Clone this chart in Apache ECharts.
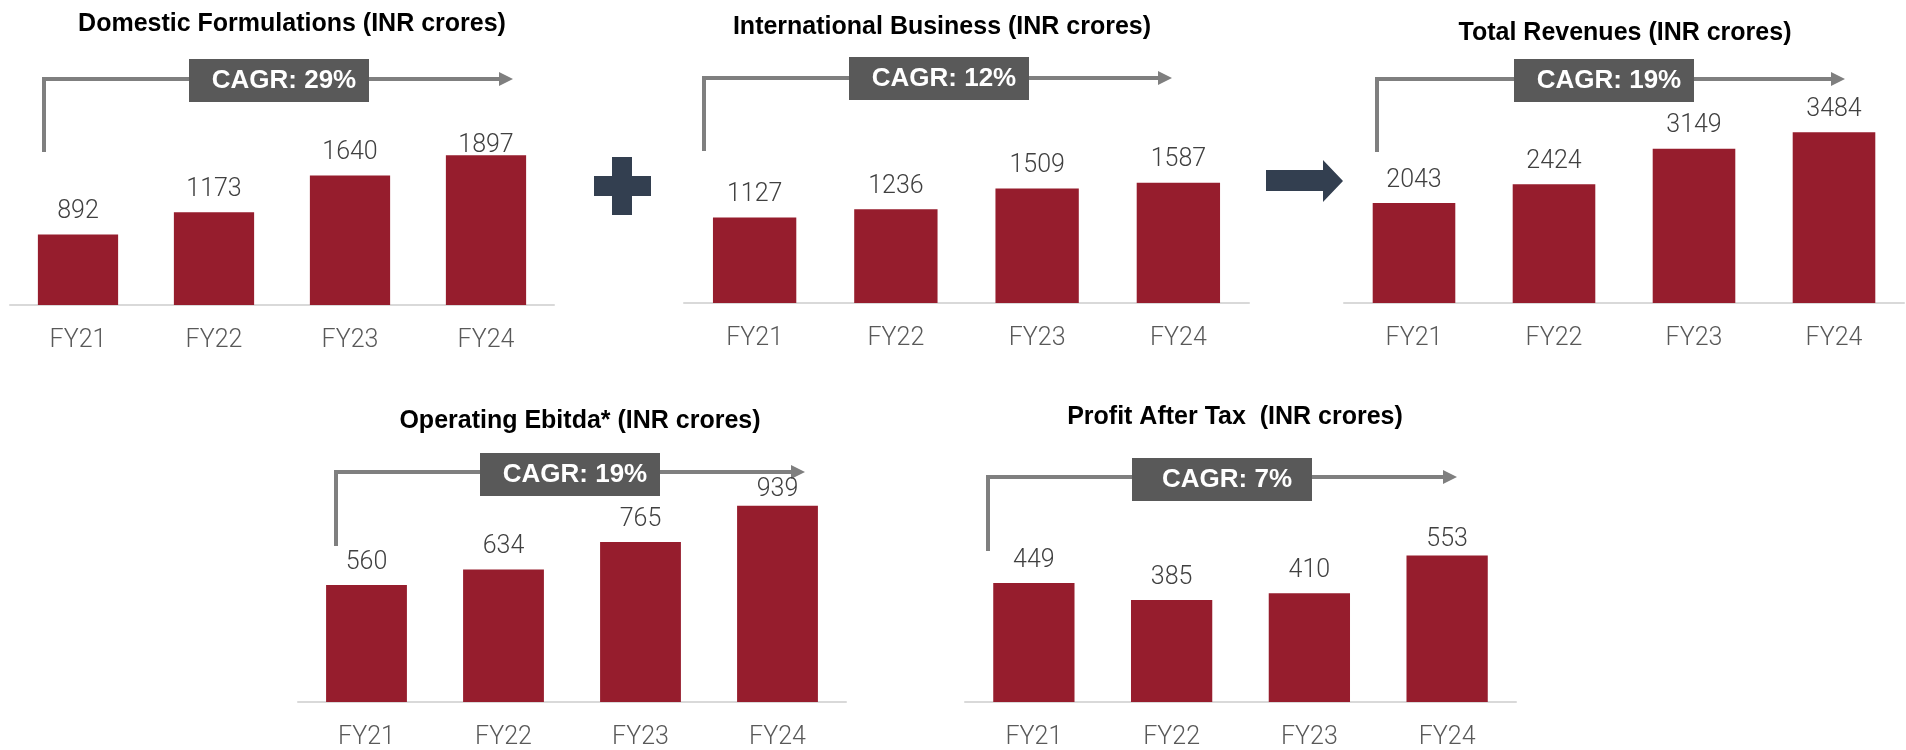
<!DOCTYPE html>
<html>
<head>
<meta charset="utf-8">
<script src="https://cdn.jsdelivr.net/npm/echarts@6/dist/echarts.min.js"></script>
<style>
  html,body{margin:0;padding:0;background:#fff;}
  #chart{width:1906px;height:750px;}
</style>
</head>
<body>
<div id="chart"></div>
<script>
'use strict';

/* ---------- data ---------- */
const CATS = ['FY21','FY22','FY23','FY24'];
const DOMESTIC = [892, 1173, 1640, 1897];
const INTERNATIONAL = [1127, 1236, 1509, 1587];
const TOTAL = [2043, 2424, 3149, 3484];
const EBITDA = [560, 634, 765, 939];
const PAT = [449, 385, 410, 553];
const TITLES = [
  'Domestic Formulations (INR crores)',
  'International Business (INR crores)',
  'Total Revenues (INR crores)',
  'Operating Ebitda* (INR crores)',
  'Profit After Tax  (INR crores)',
];
const CAGR = ['CAGR: 29%', 'CAGR: 12%', 'CAGR: 19%', 'CAGR: 19%', 'CAGR: 7%'];

/* ---------- look ---------- */
const C = {bar:'#961D2D', label:'#404040', axis:'#595959', line:'#D9D9D9',
  bracket:'#7F7F7F', box:'#595959', sign:'#333F50'};
const FONT = '"Liberation Sans", Arial, sans-serif';
const LIGHT = 'Roboto, "Liberation Sans", sans-serif';

// panel geometry (pixels): category axis span, baseline, px per unit, title + CAGR bracket
const PANELS = [
  {vals:DOMESTIC,      x0:10,   x1:554,  base:305, ppu:0.079,  tx:292,  ty:24,  vx:44,   vy:152, hy:79,  tip:513,  box:[189,59]},
  {vals:INTERNATIONAL, x0:684,  x1:1249, base:303, ppu:0.0758, tx:942,  ty:27,  vx:704,  vy:151, hy:78,  tip:1172, box:[849,57]},
  {vals:TOTAL,         x0:1344, x1:1904, base:303, ppu:0.049,  tx:1625, ty:33,  vx:1377, vy:152, hy:79,  tip:1845, box:[1514,59]},
  {vals:EBITDA,        x0:298,  x1:846,  base:702, ppu:0.209,  tx:580,  ty:421, vx:336,  vy:546, hy:472, tip:805,  box:[480,453]},
  {vals:PAT,           x0:965,  x1:1516, base:702, ppu:0.265,  tx:1235, ty:417, vx:988,  vy:551, hy:477, tip:1457, box:[1132,458]},
];
const GRID_H = 220;
const LABEL_GAP = 10;
// a few value labels sit lower in the original (panel -> {index: px})
const NUDGE = {0:{3:13}, 3:{3:7}, 4:{3:7}};

const grid=[], xAxis=[], yAxis=[], series=[], graphic=[];

PANELS.forEach((p,i)=>{
  grid.push({left:p.x0, width:p.x1-p.x0, top:p.base-GRID_H, height:GRID_H, containLabel:false});
  xAxis.push({type:'category', gridIndex:i, data:CATS,
    axisLine:{lineStyle:{color:C.line, width:2}}, axisTick:{show:false},
    axisLabel:{color:C.axis, fontFamily:LIGHT, fontWeight:300, fontSize:25, margin:23}});
  yAxis.push({type:'value', gridIndex:i, min:0, max:GRID_H/p.ppu, show:false, splitLine:{show:false}});
  const nudge = NUDGE[i] || {};
  series.push({type:'bar', xAxisIndex:i, yAxisIndex:i, barCategoryGap:'41%',
    itemStyle:{color:C.bar},
    label:{show:true, position:'top', distance:LABEL_GAP, color:C.label, fontFamily:LIGHT, fontWeight:300, fontSize:25},
    data:p.vals.map((v,k)=> nudge[k]!=null ? {value:v, label:{distance:LABEL_GAP-nudge[k]}} : v),
    animation:false});

  // title
  graphic.push({type:'text', x:p.tx, y:p.ty, style:{text:TITLES[i], fill:'#000',
    font:'bold 25px '+FONT, align:'center', verticalAlign:'middle'}});
  // CAGR bracket arrow
  graphic.push({type:'polyline', shape:{points:[[p.vx,p.vy],[p.vx,p.hy],[p.tip-12,p.hy]]},
    style:{stroke:C.bracket, lineWidth:4, fill:null}});
  graphic.push({type:'polygon', shape:{points:[[p.tip-14,p.hy-7],[p.tip,p.hy],[p.tip-14,p.hy+7]]},
    style:{fill:C.bracket}});
  graphic.push({type:'rect', shape:{x:p.box[0], y:p.box[1], width:180, height:43},
    style:{fill:C.box}});
  graphic.push({type:'text', x:p.box[0]+95, y:p.box[1]+22, style:{text:CAGR[i], fill:'#fff',
    font:'bold 26px '+FONT, align:'center', verticalAlign:'middle'}});
});

// plus sign between first two panels, arrow before total
graphic.push({type:'rect', shape:{x:612, y:157, width:20, height:58}, style:{fill:C.sign}});
graphic.push({type:'rect', shape:{x:594, y:176, width:57, height:20}, style:{fill:C.sign}});
graphic.push({type:'polygon', shape:{points:[[1266,170],[1323,170],[1323,160],[1343,181],[1323,202],[1323,191],[1266,191]]},
  style:{fill:C.sign}});

const chart = echarts.init(document.getElementById('chart'));
chart.setOption({animation:false, grid, xAxis, yAxis, series, graphic});
</script>
</body>
</html>
